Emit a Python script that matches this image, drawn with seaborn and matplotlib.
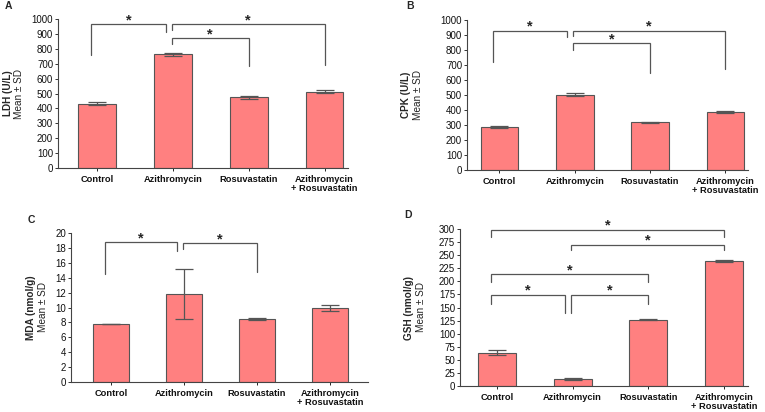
import numpy as np
import pandas as pd
import matplotlib
matplotlib.use('Agg')
import matplotlib.pyplot as plt
import seaborn as sns

# 组别
groups = ['Control', 'Azithromycin', 'Rosuvastatin', 'Azithromycin\n+ Rosuvastatin']

# 各指标 均值 / 标准差
ldh_mean = [432, 765, 475, 513]
ldh_sd = [8, 10, 10, 8]
cpk_mean = [285, 503, 318, 388]
cpk_sd = [6, 10, 4, 6]
mda_mean = [7.8, 11.8, 8.5, 9.95]
mda_sd = [0.05, 3.4, 0.15, 0.45]
gsh_mean = [64, 14, 127, 239]
gsh_sd = [5, 2, 1, 2]

# 显著性括号: (组 i, 组 j, 顶部高度, 左脚末端, 右脚末端)
ldh_sig = [(0, 1, 966, 760, 910), (1, 2, 872, 832, 682), (1, 3, 966, 924, 693)]
cpk_sig = [(0, 1, 927, 718, 884), (1, 2, 844, 800, 649), (1, 3, 929, 893, 671)]
mda_sig = [(0, 1, 18.75, 14.5, 17.6), (1, 2, 18.66, 17.85, 14.7)]
gsh_sig = [(0, 3, 299, 285, 285), (1, 3, 270, 259, 259), (0, 2, 214, 199, 199),
           (0, 1, 174, 157, 140), (1, 2, 174, 140, 157)]

ldh_ticks = list(range(0, 1001, 100))
cpk_ticks = list(range(0, 1001, 100))
mda_ticks = list(range(0, 21, 2))
gsh_ticks = list(range(0, 301, 25))

sns.set_style('ticks')
plt.rcParams['font.family'] = ['Liberation Sans', 'DejaVu Sans']

W, H = 765, 412
fig = plt.figure(figsize=(W / 100, H / 100), dpi=100)

BAR = '#FF8080'
EDGE = '#555555'
LINE = '#555555'


def px_rect(left, right, top, bottom):
    return [left / W, 1 - bottom / H, (right - left) / W, (bottom - top) / H]


def draw_panel(rect, xlim, means, sds, sig, ticks, name, letter, letter_xy, lab_dx):
    ax = fig.add_axes(rect)
    df = pd.DataFrame({'group': groups, 'value': means})
    sns.barplot(data=df, x='group', y='value', color=BAR, saturation=1,
                width=0.5, edgecolor=EDGE, linewidth=0.8, errorbar=None, ax=ax)
    ax.errorbar(x=np.arange(len(groups)), y=means, yerr=sds, fmt='none',
                ecolor=EDGE, elinewidth=0.9, capsize=6.5, capthick=0.9)

    ax.set_xlim(*xlim)
    ax.set_ylim(ticks[0], ticks[-1])
    ax.set_yticks(ticks)
    ax.set_xlabel('')
    ax.set_ylabel('')
    ax.tick_params(axis='y', labelsize=7, length=2.5, width=0.7, pad=1, colors='#333333')
    ax.tick_params(axis='x', labelsize=6.7, length=2.5, width=0.7, pad=2.5)
    for lbl in ax.get_xticklabels():
        lbl.set_fontweight('bold')
        lbl.set_color('#111111')
        lbl.set_linespacing(1.05)
    for lbl in ax.get_yticklabels():
        lbl.set_color('#111111')
    sns.despine(ax=ax)
    for s in ('left', 'bottom'):
        ax.spines[s].set_linewidth(0.8)
        ax.spines[s].set_color('#444444')

    # y 轴两行标签
    ax.annotate(name, xy=(0, 0.5), xycoords='axes fraction', xytext=(lab_dx[0], 0),
                textcoords='offset pixels', rotation=90, ha='center', va='center',
                fontsize=7.2, fontweight='bold')
    ax.annotate('Mean ± SD', xy=(0, 0.5), xycoords='axes fraction', xytext=(lab_dx[1], 0),
                textcoords='offset pixels', rotation=90, ha='center', va='center',
                fontsize=7.2, color='#222222')

    # 显著性括号
    for i, j, top, yl, yr in sig:
        x1 = i - 0.08 if i == 0 else i - 0.02
        x2 = j - 0.1 if j == 1 else j
        ax.plot([x1, x1, x2, x2], [yl, top, top, yr], color=LINE, lw=0.9,
                clip_on=False, solid_joinstyle='miter')
        ax.annotate('*', xy=((x1 + x2) / 2, top), xycoords='data', xytext=(0, 0),
                    textcoords='offset pixels', ha='center', va='baseline',
                    fontsize=10.5, fontweight='bold', annotation_clip=False)

    fig.text(letter_xy[0] / W, 1 - letter_xy[1] / H, letter, ha='center', va='center',
             fontsize=7.5, fontweight='bold')
    return ax


draw_panel(px_rect(58, 348, 19, 168), (-0.52, 3.31), ldh_mean, ldh_sd, ldh_sig,
           ldh_ticks, 'LDH (U/L)', 'A', (8, 6), (-50, -39))
draw_panel(px_rect(467, 748, 20, 170), (-0.43, 3.30), cpk_mean, cpk_sd, cpk_sig,
           cpk_ticks, 'CPK (U/L)', 'B', (410, 6), (-61, -49))
draw_panel(px_rect(71, 368, 233, 382), (-0.55, 3.52), mda_mean, mda_sd, mda_sig,
           mda_ticks, 'MDA (nmol/g)', 'C', (31, 220), (-40, -28))
draw_panel(px_rect(460, 748, 229, 386), (-0.49, 3.32), gsh_mean, gsh_sd, gsh_sig,
           gsh_ticks, 'GSH (nmol/g)', 'D', (408, 215), (-51, -39))

plt.savefig('out.png', dpi=100)
plt.close()
